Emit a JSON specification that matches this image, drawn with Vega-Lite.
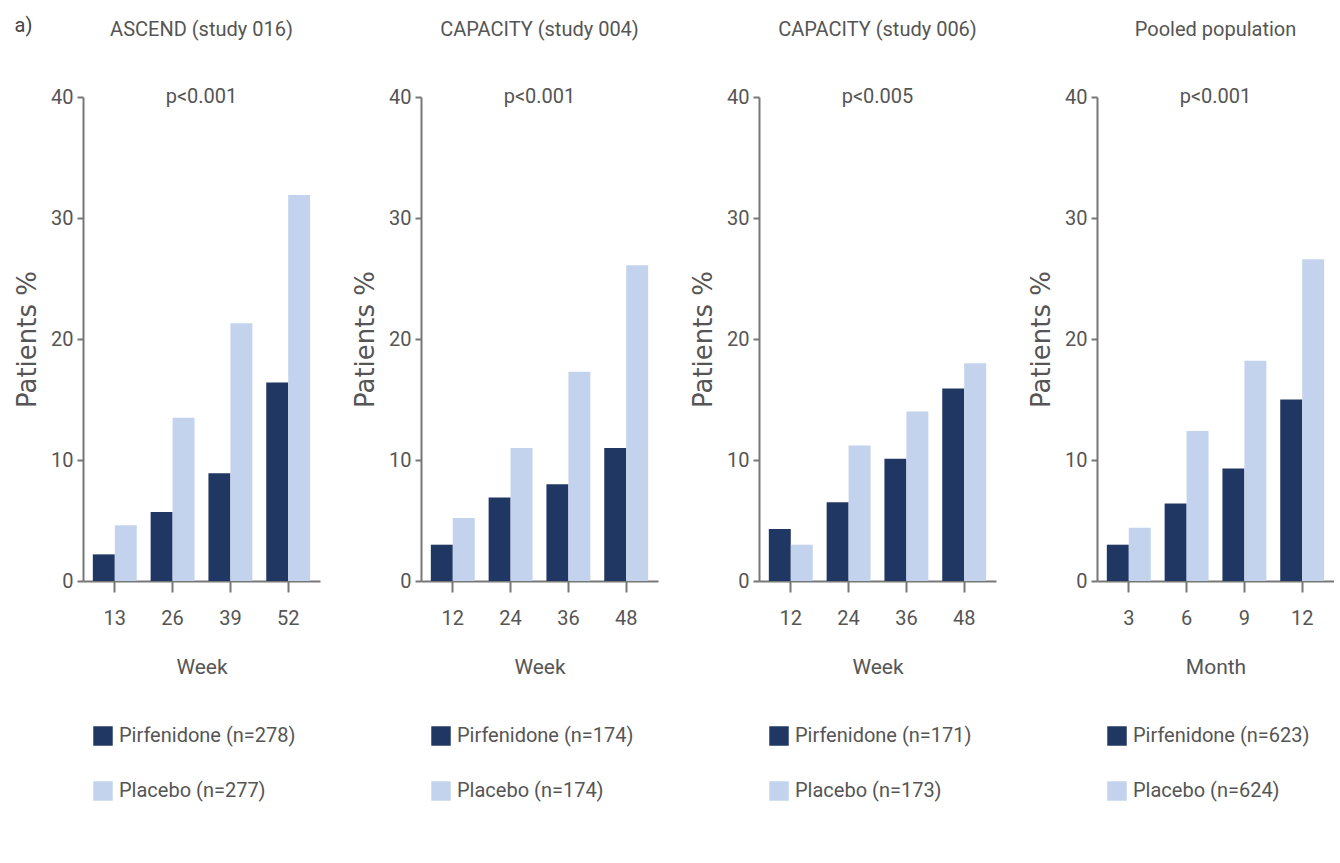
{
  "$schema": "https://vega.github.io/schema/vega-lite/v6.json",
  "background": "white",
  "padding": {"left": 14, "top": 16, "right": 0, "bottom": 0},
  "title": {"text": "a)", "anchor": "start", "frame": "bounds", "offset": -16, "font": "Roboto", "fontSize": 20, "fontWeight": "normal", "color": "#444"},
  "datasets": {
    "bars": [
      {"panel": "A", "t": 13, "series": "Pirfenidone", "label": "Pirfenidone (n=278)", "value": 2.2},
      {"panel": "A", "t": 13, "series": "Placebo", "label": "Placebo (n=277)", "value": 4.6},
      {"panel": "A", "t": 26, "series": "Pirfenidone", "label": "Pirfenidone (n=278)", "value": 5.7},
      {"panel": "A", "t": 26, "series": "Placebo", "label": "Placebo (n=277)", "value": 13.5},
      {"panel": "A", "t": 39, "series": "Pirfenidone", "label": "Pirfenidone (n=278)", "value": 8.9},
      {"panel": "A", "t": 39, "series": "Placebo", "label": "Placebo (n=277)", "value": 21.3},
      {"panel": "A", "t": 52, "series": "Pirfenidone", "label": "Pirfenidone (n=278)", "value": 16.4},
      {"panel": "A", "t": 52, "series": "Placebo", "label": "Placebo (n=277)", "value": 31.9},
      {"panel": "B", "t": 12, "series": "Pirfenidone", "label": "Pirfenidone (n=174)", "value": 3.0},
      {"panel": "B", "t": 12, "series": "Placebo", "label": "Placebo (n=174)", "value": 5.2},
      {"panel": "B", "t": 24, "series": "Pirfenidone", "label": "Pirfenidone (n=174)", "value": 6.9},
      {"panel": "B", "t": 24, "series": "Placebo", "label": "Placebo (n=174)", "value": 11.0},
      {"panel": "B", "t": 36, "series": "Pirfenidone", "label": "Pirfenidone (n=174)", "value": 8.0},
      {"panel": "B", "t": 36, "series": "Placebo", "label": "Placebo (n=174)", "value": 17.3},
      {"panel": "B", "t": 48, "series": "Pirfenidone", "label": "Pirfenidone (n=174)", "value": 11.0},
      {"panel": "B", "t": 48, "series": "Placebo", "label": "Placebo (n=174)", "value": 26.1},
      {"panel": "C", "t": 12, "series": "Pirfenidone", "label": "Pirfenidone (n=171)", "value": 4.3},
      {"panel": "C", "t": 12, "series": "Placebo", "label": "Placebo (n=173)", "value": 3.0},
      {"panel": "C", "t": 24, "series": "Pirfenidone", "label": "Pirfenidone (n=171)", "value": 6.5},
      {"panel": "C", "t": 24, "series": "Placebo", "label": "Placebo (n=173)", "value": 11.2},
      {"panel": "C", "t": 36, "series": "Pirfenidone", "label": "Pirfenidone (n=171)", "value": 10.1},
      {"panel": "C", "t": 36, "series": "Placebo", "label": "Placebo (n=173)", "value": 14.0},
      {"panel": "C", "t": 48, "series": "Pirfenidone", "label": "Pirfenidone (n=171)", "value": 15.9},
      {"panel": "C", "t": 48, "series": "Placebo", "label": "Placebo (n=173)", "value": 18.0},
      {"panel": "D", "t": 3, "series": "Pirfenidone", "label": "Pirfenidone (n=623)", "value": 3.0},
      {"panel": "D", "t": 3, "series": "Placebo", "label": "Placebo (n=624)", "value": 4.4},
      {"panel": "D", "t": 6, "series": "Pirfenidone", "label": "Pirfenidone (n=623)", "value": 6.4},
      {"panel": "D", "t": 6, "series": "Placebo", "label": "Placebo (n=624)", "value": 12.4},
      {"panel": "D", "t": 9, "series": "Pirfenidone", "label": "Pirfenidone (n=623)", "value": 9.3},
      {"panel": "D", "t": 9, "series": "Placebo", "label": "Placebo (n=624)", "value": 18.2},
      {"panel": "D", "t": 12, "series": "Pirfenidone", "label": "Pirfenidone (n=623)", "value": 15.0},
      {"panel": "D", "t": 12, "series": "Placebo", "label": "Placebo (n=624)", "value": 26.6}
    ]
  },
  "resolve": {"scale": {"color": "independent", "x": "independent", "y": "independent"}, "legend": {"color": "independent"}},
  "hconcat": [
    {
      "width": 237, "height": 484,
      "title": {"text": "ASCEND (study 016)", "subtitle": "p<0.001"},
      "data": {"name": "bars"},
      "transform": [{"filter": "datum.panel === 'A'"}],
      "mark": {"type": "bar"},
      "encoding": {
        "x": {"field": "t", "type": "ordinal", "title": "Week", "scale": {"paddingInner": 0.24, "paddingOuter": 0.17}},
        "xOffset": {"field": "series", "type": "nominal"},
        "y": {"field": "value", "type": "quantitative", "title": "Patients %", "scale": {"domain": [0, 40], "nice": false}, "axis": {"values": [0, 10, 20, 30, 40]}},
        "color": {"field": "label", "type": "nominal", "scale": {"range": ["#213763", "#c3d3ed"]}, "legend": {"title": null}}
      }
    },
    {
      "width": 237, "height": 484,
      "title": {"text": "CAPACITY (study 004)", "subtitle": "p<0.001"},
      "data": {"name": "bars"},
      "transform": [{"filter": "datum.panel === 'B'"}],
      "mark": {"type": "bar"},
      "encoding": {
        "x": {"field": "t", "type": "ordinal", "title": "Week", "scale": {"paddingInner": 0.24, "paddingOuter": 0.17}},
        "xOffset": {"field": "series", "type": "nominal"},
        "y": {"field": "value", "type": "quantitative", "title": "Patients %", "scale": {"domain": [0, 40], "nice": false}, "axis": {"values": [0, 10, 20, 30, 40]}},
        "color": {"field": "label", "type": "nominal", "scale": {"range": ["#213763", "#c3d3ed"]}, "legend": {"title": null}}
      }
    },
    {
      "width": 237, "height": 484,
      "title": {"text": "CAPACITY (study 006)", "subtitle": "p<0.005"},
      "data": {"name": "bars"},
      "transform": [{"filter": "datum.panel === 'C'"}],
      "mark": {"type": "bar"},
      "encoding": {
        "x": {"field": "t", "type": "ordinal", "title": "Week", "scale": {"paddingInner": 0.24, "paddingOuter": 0.17}},
        "xOffset": {"field": "series", "type": "nominal"},
        "y": {"field": "value", "type": "quantitative", "title": "Patients %", "scale": {"domain": [0, 40], "nice": false}, "axis": {"values": [0, 10, 20, 30, 40]}},
        "color": {"field": "label", "type": "nominal", "scale": {"range": ["#213763", "#c3d3ed"]}, "legend": {"title": null}}
      }
    },
    {
      "width": 237, "height": 484,
      "title": {"text": "Pooled population", "subtitle": "p<0.001"},
      "data": {"name": "bars"},
      "transform": [{"filter": "datum.panel === 'D'"}],
      "mark": {"type": "bar"},
      "encoding": {
        "x": {"field": "t", "type": "ordinal", "title": "Month", "scale": {"paddingInner": 0.24, "paddingOuter": 0.17}},
        "xOffset": {"field": "series", "type": "nominal"},
        "y": {"field": "value", "type": "quantitative", "title": "Patients %", "scale": {"domain": [0, 40], "nice": false}, "axis": {"values": [0, 10, 20, 30, 40]}},
        "color": {"field": "label", "type": "nominal", "scale": {"range": ["#213763", "#c3d3ed"]}, "legend": {"title": null}}
      }
    }
  ],
  "config": {
    "font": "Roboto",
    "view": {"stroke": null},
    "concat": {"spacing": 32},
    "axis": {"domainColor": "#777", "domainWidth": 2, "tickColor": "#777", "tickWidth": 2, "labelColor": "#555", "labelFont": "Roboto", "labelFontSize": 20, "titleColor": "#555", "titleFontWeight": "normal", "grid": false},
    "axisX": {"labelAngle": 0, "tickSize": 11, "labelPadding": 16, "titleFont": "Roboto", "titleFontSize": 21, "titlePadding": 28},
    "axisY": {"tickSize": 6, "labelPadding": 4, "titleFont": "DejaVu Sans", "titleFontSize": 26, "titlePadding": 10},
    "title": {"font": "Roboto", "fontSize": 20, "fontWeight": "normal", "color": "#555", "subtitleFont": "Roboto", "subtitleFontSize": 20, "subtitleColor": "#555", "subtitlePadding": 47, "offset": -20, "anchor": "middle"},
    "legend": {"orient": "bottom", "direction": "vertical", "symbolType": "square", "symbolSize": 380, "symbolStrokeWidth": 0, "labelFont": "Roboto", "labelFontSize": 20, "labelColor": "#555", "rowPadding": 35, "offset": 39, "padding": 10, "labelOffset": 6, "labelLimit": 300}
  }
}
